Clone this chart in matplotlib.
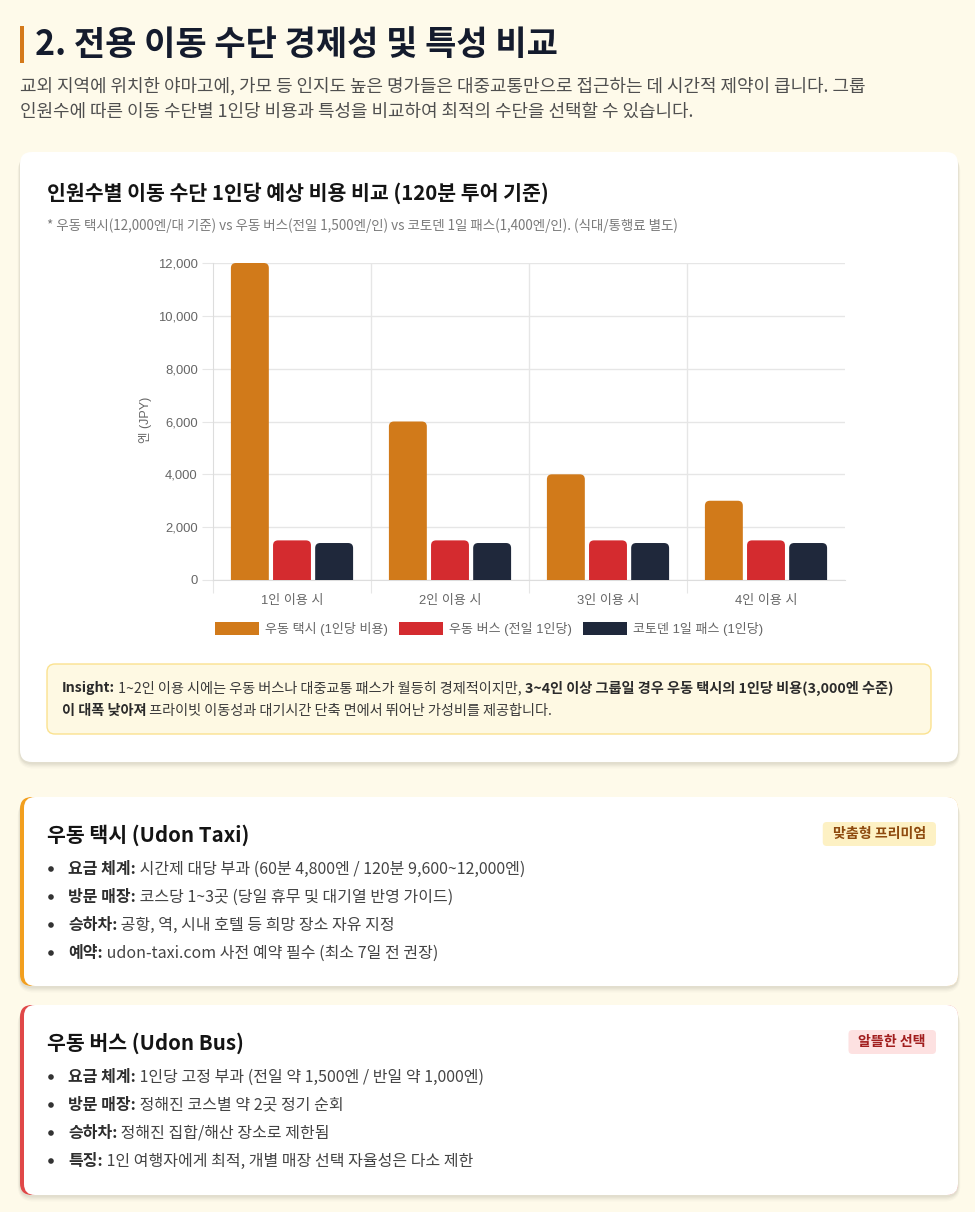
import matplotlib
matplotlib.use("Agg")
import matplotlib.pyplot as plt
from matplotlib.patches import FancyBboxPatch, Rectangle, Circle
import numpy as np

plt.rcParams['font.family'] = ['Noto Sans CJK KR', 'DejaVu Sans']
CHART_FONT = ['Liberation Sans', 'Noto Sans CJK KR']

# ---------------- data ----------------
categories = ['1인 이용 시', '2인 이용 시', '3인 이용 시', '4인 이용 시']
taxi_cost = [12000, 6000, 4000, 3000]
bus_cost = [1500, 1500, 1500, 1500]
pass_cost = [1400, 1400, 1400, 1400]
series_labels = ['우동 택시 (1인당 비용)', '우동 버스 (전일 1인당)', '코토덴 1일 패스 (1인당)']
series_colors = ['#D17A1A', '#D42B2F', '#1F283B']
y_ticks = [0, 2000, 4000, 6000, 8000, 10000, 12000]

page_title = '2. 전용 이동 수단 경제성 및 특성 비교'
intro_lines = ['교외 지역에 위치한 야마고에, 가모 등 인지도 높은 명가들은 대중교통만으로 접근하는 데 시간적 제약이 큽니다. 그룹',
               '인원수에 따른 이동 수단별 1인당 비용과 특성을 비교하여 최적의 수단을 선택할 수 있습니다.']
chart_title = '인원수별 이동 수단 1인당 예상 비용 비교 (120분 투어 기준)'
chart_note = '* 우동 택시(12,000엔/대 기준) vs 우동 버스(전일 1,500엔/인) vs 코토덴 1일 패스(1,400엔/인). (식대/통행료 별도)'
insight_line1 = [('Insight:', True), (' 1~2인 이용 시에는 우동 버스나 대중교통 패스가 월등히 경제적이지만, ', False),
                 ('3~4인 이상 그룹일 경우 우동 택시의 1인당 비용(3,000엔 수준)', True)]
insight_line2 = [('이 대폭 낮아져', True), (' 프라이빗 이동성과 대기시간 단축 면에서 뛰어난 가성비를 제공합니다.', False)]

taxi_title = '우동 택시 (Udon Taxi)'
taxi_badge = '맞춤형 프리미엄'
taxi_items = [('요금 체계:', ' 시간제 대당 부과 (60분 4,800엔 / 120분 9,600~12,000엔)'),
              ('방문 매장:', ' 코스당 1~3곳 (당일 휴무 및 대기열 반영 가이드)'),
              ('승하차:', ' 공항, 역, 시내 호텔 등 희망 장소 자유 지정'),
              ('예약:', ' udon-taxi.com 사전 예약 필수 (최소 7일 전 권장)')]
bus_title = '우동 버스 (Udon Bus)'
bus_badge = '알뜰한 선택'
bus_items = [('요금 체계:', ' 1인당 고정 부과 (전일 약 1,500엔 / 반일 약 1,000엔)'),
             ('방문 매장:', ' 정해진 코스별 약 2곳 정기 순회'),
             ('승하차:', ' 정해진 집합/해산 장소로 제한됨'),
             ('특징:', ' 1인 여행자에게 최적, 개별 매장 선택 자율성은 다소 제한')]

# ---------------- figure ----------------
W, H = 975, 1212
fig = plt.figure(figsize=(W / 100, H / 100), dpi=100)
fig.patch.set_facecolor('#FEFAEA')
bg = fig.add_axes([0, 0, 1, 1])
bg.set_xlim(0, W)
bg.set_ylim(H, 0)
bg.axis('off')
renderer = fig.canvas.get_renderer()

def px(v):
    return v * 0.72

def rbox(x, y, w, h, r, fc, ec='none', lw=0, z=1, alpha=1.0):
    p = FancyBboxPatch((x, y), w, h, boxstyle=f"round,pad=0,rounding_size={r}",
                       fc=fc, ec=ec, lw=lw, zorder=z, alpha=alpha)
    bg.add_patch(p)
    return p

def shadow(x, y, w, h, r):
    for i, a in enumerate([0.035, 0.03, 0.025, 0.02]):
        d = i + 1
        rbox(x - d * 0.6, y + 1 + d * 0.8, w + d * 1.2, h + d * 0.6, r + d, '#000000', z=0.5, alpha=a)

def runs(x, y, parts, size, colors, z=5):
    for (txt, bold), col in zip(parts, colors):
        t = bg.text(x, y, txt, fontsize=size, fontweight='bold' if bold else 'normal',
                    color=col, va='center', ha='left', zorder=z)
        x += t.get_window_extent(renderer).width
    return x

# Page title
bg.add_patch(Rectangle((20, 26), 3.5, 37, fc='#D4791A', ec='none', zorder=2))
bg.text(35, 45, page_title, fontsize=px(34), fontweight='bold', color='#141B2D', va='center', ha='left')
for i, line in enumerate(intro_lines):
    bg.text(20, 86 + i * 26, line, fontsize=px(18), color='#4F4F4F', va='center', ha='left')

# Chart card
shadow(20, 152, 938, 610, 12)
rbox(20, 152, 938, 610, 12, 'white', z=1)
bg.text(47, 193, chart_title, fontsize=px(20.5), fontweight='bold', color='#141414', va='center', ha='left')
bg.text(47, 226, chart_note, fontsize=px(13.5), color='#7A7A7A', va='center', ha='left')

# Axes
L, R, T, B = 213, 845, 263, 580
ax = fig.add_axes([L / W, (H - B) / H, (R - L) / W, (B - T) / H])
ax.set_facecolor('none')
n = len(categories)
x = np.arange(n)
group = 0.8
slot = group / 3
bw = slot * 0.9
ax.set_xlim(-0.5, n - 0.5)
ax.set_ylim(0, 12000)

xunits_per_px = n / (R - L)
yunits_per_px = 12000 / (B - T)
asp = yunits_per_px / xunits_per_px
rad = 5 * xunits_per_px
for k, (vals, col) in enumerate(zip([taxi_cost, bus_cost, pass_cost], series_colors)):
    bars = ax.bar(x + (k - 1) * slot, vals, width=bw, color=col, zorder=3)
    for rect in bars:
        rect.set_visible(False)
        bx, bwid, bh = rect.get_x(), rect.get_width(), rect.get_height()
        ext = rad * asp * 1.5
        p = FancyBboxPatch((bx, -ext), bwid, bh + ext, boxstyle=f"round,pad=0,rounding_size={rad}",
                           mutation_aspect=asp, fc=col, ec='none', zorder=3)
        ax.add_patch(p)

ax.set_yticks(y_ticks)
ax.set_yticklabels([f'{v:,}' for v in y_ticks])
ax.yaxis.grid(True, color='#E6E6E6', lw=1, zorder=0)
ax.set_xticks([-0.5, 0.5, 1.5, 2.5])
ax.set_xticklabels([])
ax.set_xticks(x, minor=True)
ax.set_xticklabels(categories, minor=True)
for gx in [0.5, 1.5, 2.5]:
    ax.axvline(gx, color='#E6E6E6', lw=1, zorder=0)
ax.tick_params(axis='y', length=8, color='#E6E6E6', labelsize=px(13), labelcolor='#666666', pad=3,
               labelfontfamily=CHART_FONT)
ax.tick_params(axis='x', which='major', length=9, color='#E6E6E6')
ax.tick_params(axis='x', which='minor', length=0, labelsize=px(13), labelcolor='#666666', pad=11,
               labelfontfamily=CHART_FONT)
for s in ['top', 'right']:
    ax.spines[s].set_visible(False)
for s in ['left', 'bottom']:
    ax.spines[s].set_color('#DDDDDD')
ax.set_ylabel('엔 (JPY)', fontsize=px(12.5), color='#666666', family=CHART_FONT)
ax.yaxis.set_label_coords((152 - L) / (R - L), (B - 420) / (B - T))

# Legend (manual)
sw_w, sw_h, gap_t, gap_i = 44, 13, 6, 11
lfs = px(13)
widths = []
for lab in series_labels:
    t = bg.text(0, 0, lab, fontsize=lfs, family=CHART_FONT)
    widths.append(t.get_window_extent(renderer).width)
    t.remove()
total = sum(sw_w + gap_t + w for w in widths) + gap_i * (len(widths) - 1)
lx = 489 - total / 2
for lab, col, w in zip(series_labels, series_colors, widths):
    bg.add_patch(Rectangle((lx, 622), sw_w, sw_h, fc=col, ec='none', zorder=3))
    bg.text(lx + sw_w + gap_t, 628.5, lab, fontsize=lfs, color='#666666', va='center', ha='left',
            family=CHART_FONT)
    lx += sw_w + gap_t + w + gap_i

# Insight box
rbox(47, 664, 884, 70, 8, '#FEF9E3', ec='#FBE28F', lw=1, z=2)
runs(62, 688, insight_line1, px(14.2), ['#2B2B2B', '#3A3A3A', '#2B2B2B'])
runs(62, 711, insight_line2, px(14.2), ['#2B2B2B', '#3A3A3A'])

# Info cards
def card(y0, h, accent, title, badge, badge_fc, badge_tc, items):
    shadow(20, y0, 938, h, 12)
    rbox(20, y0, 938, h, 12, accent, z=1)
    rbox(24, y0, 934, h, 11, 'white', z=1.1)
    bg.text(47, y0 + 38, title, fontsize=px(20.5), fontweight='bold', color='#141414', va='center', ha='left', zorder=5)
    bfs = px(14)
    t = bg.text(0, 0, badge, fontsize=bfs, fontweight='bold')
    bwid = t.get_window_extent(renderer).width
    t.remove()
    bx1 = 936
    rbox(bx1 - bwid - 20, y0 + 25, bwid + 20, 24, 4, badge_fc, z=2)
    bg.text(bx1 - 10, y0 + 37, badge, fontsize=bfs, fontweight='bold', color=badge_tc,
            va='center', ha='right', zorder=5)
    for i, (lab, txt) in enumerate(items):
        yy = y0 + 72 + i * 28
        bg.add_patch(Circle((51, yy), 2.8, fc='#333333', ec='none', zorder=5))
        runs(68, yy, [(lab, True), (txt, False)], px(16), ['#2E2E2E', '#444444'])

card(797, 189, '#F29F1E', taxi_title, taxi_badge, '#FDF1C4', '#8E4A0E', taxi_items)
card(1005, 190, '#E04848', bus_title, bus_badge, '#FDE1E1', '#A11E1E', bus_items)

fig.savefig('out.png', dpi=100, facecolor=fig.get_facecolor())
